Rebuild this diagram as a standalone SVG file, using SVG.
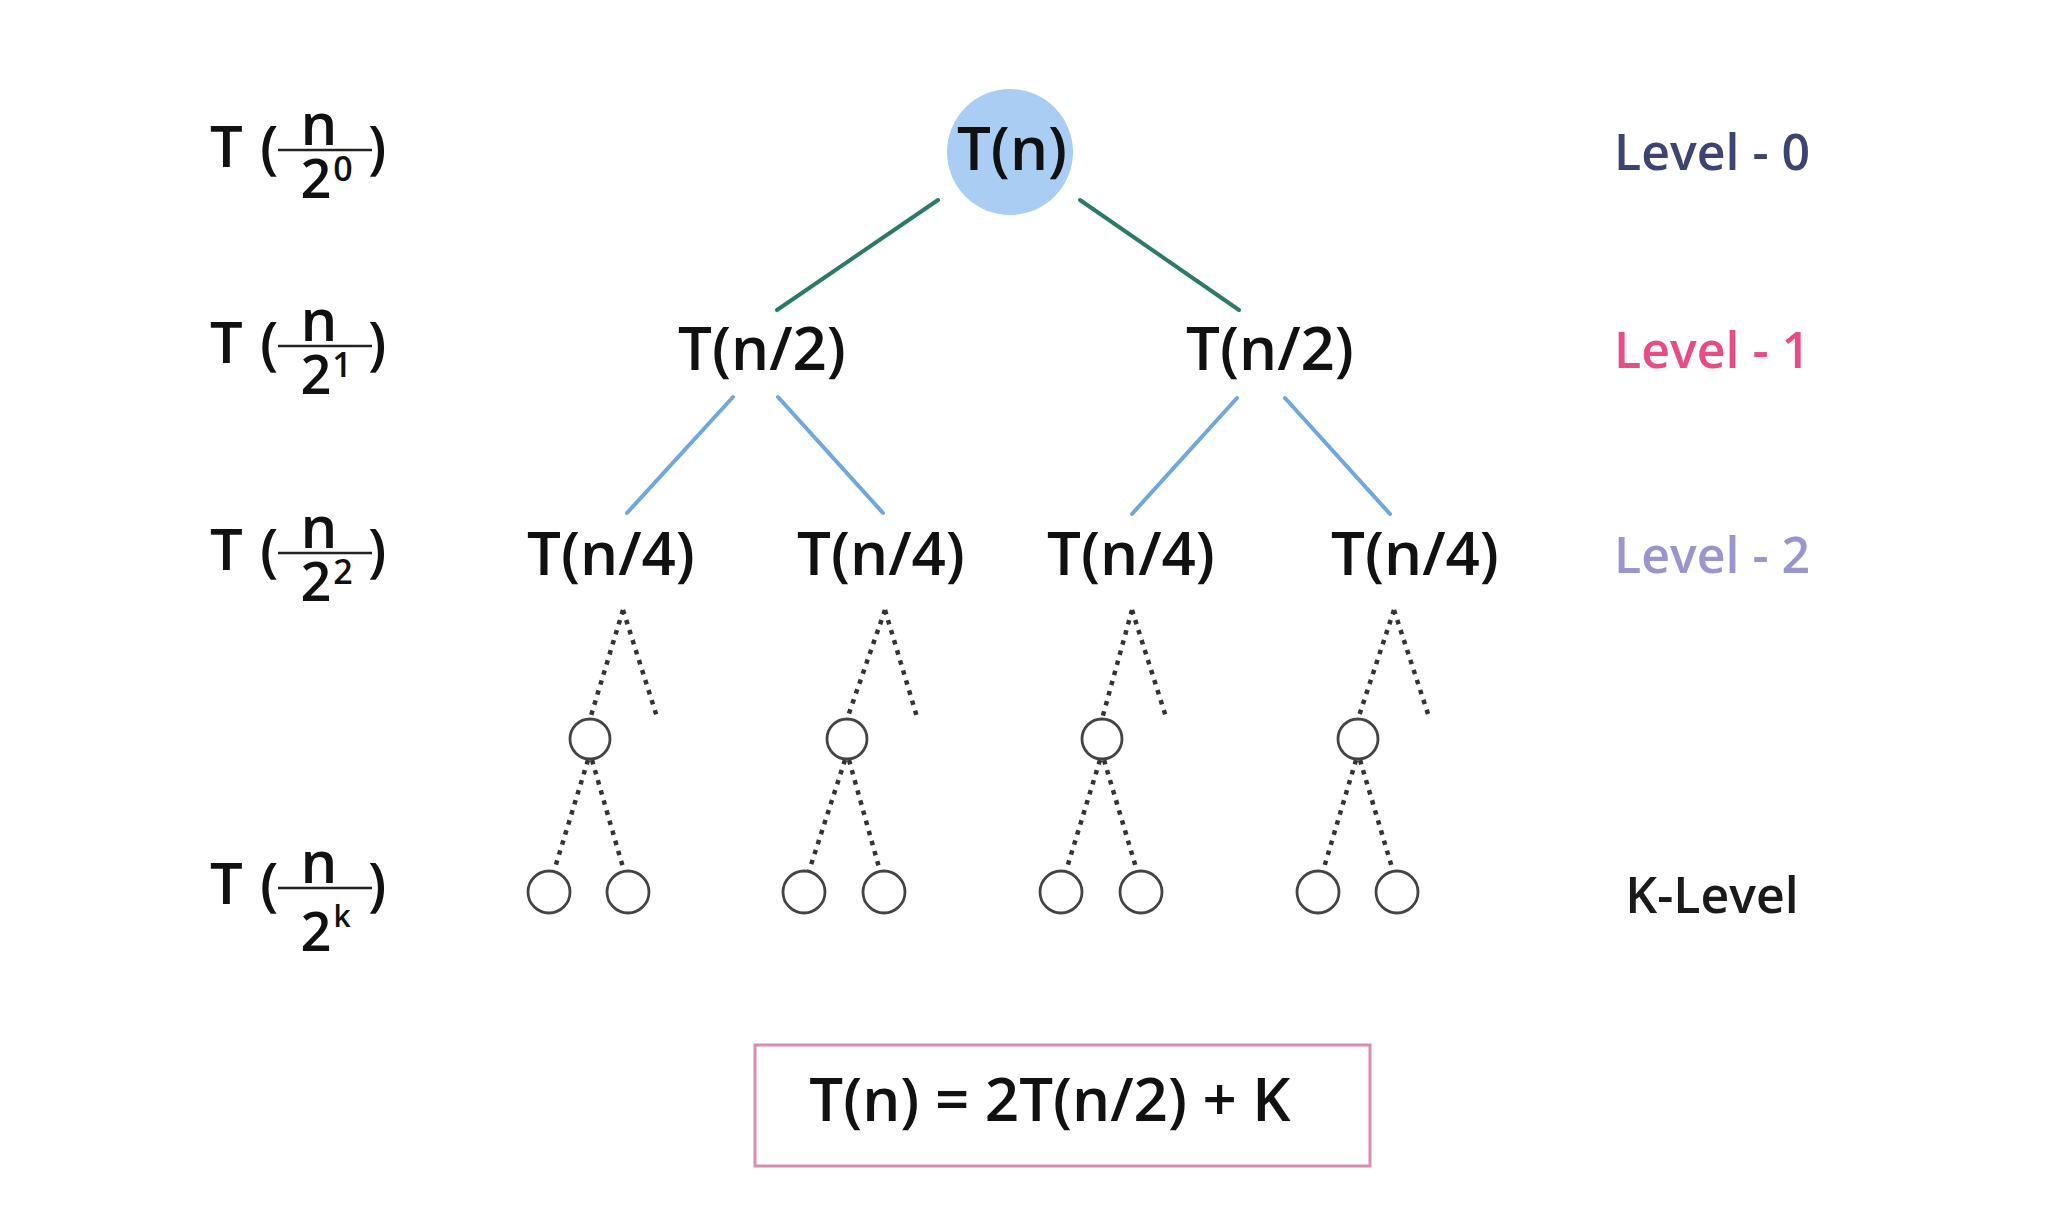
<svg xmlns="http://www.w3.org/2000/svg" width="2048" height="1229" viewBox="0 0 2048 1229">
<style>
  text { font-family: "Open Sans", "Liberation Sans", sans-serif; font-weight: 600; fill: #111; }
  .node { font-size: 60px; text-anchor: middle; }
  .lvl { font-size: 50px; text-anchor: middle; }
  .lab { font-size: 58px; }
  .frac { text-anchor: middle; }
  .num { font-size: 58px; }
  .den { font-size: 54px; }
  .sup { font-size: 34px; }
  .green { stroke: #2b7b68; stroke-width: 4; fill: none; stroke-linecap: round; }
  .blue { stroke: #6fa8dc; stroke-width: 4; fill: none; stroke-linecap: round; }
  .dot { stroke: #333; stroke-width: 4.5; fill: none; stroke-dasharray: 4.5 6; }
  .bar { stroke: #222; stroke-width: 2.5; }
  .small { fill: #fff; stroke: #444; stroke-width: 2.8; }
</style>

<rect x="0" y="0" width="2048" height="1229" fill="#fff"/>

<!-- left level formulas -->
<g id="formula-0">
  <text class="lab" x="210" y="167">T</text>
  <text class="lab" x="260" y="167">(</text>
  <line class="bar" x1="278" y1="150" x2="372" y2="150"/>
  <text class="frac"><tspan class="num" x="319" y="145">n</tspan><tspan class="den" x="316" y="198">2</tspan><tspan class="sup" x="343" y="181">0</tspan></text>
  <text class="lab" x="368" y="167">)</text>
</g>
<g id="formula-1">
  <text class="lab" x="210" y="363">T</text>
  <text class="lab" x="260" y="363">(</text>
  <line class="bar" x1="278" y1="346" x2="372" y2="346"/>
  <text class="frac"><tspan class="num" x="319" y="341">n</tspan><tspan class="den" x="316" y="394">2</tspan><tspan class="sup" x="342" y="377">1</tspan></text>
  <text class="lab" x="368" y="363">)</text>
</g>
<g id="formula-2">
  <text class="lab" x="210" y="570">T</text>
  <text class="lab" x="260" y="570">(</text>
  <line class="bar" x1="278" y1="553" x2="372" y2="553"/>
  <text class="frac"><tspan class="num" x="319" y="548">n</tspan><tspan class="den" x="316" y="601">2</tspan><tspan class="sup" x="343" y="584">2</tspan></text>
  <text class="lab" x="368" y="570">)</text>
</g>
<g id="formula-k">
  <text class="lab" x="210" y="904">T</text>
  <text class="lab" x="260" y="904">(</text>
  <line class="bar" x1="278" y1="888" x2="372" y2="888"/>
  <text class="frac"><tspan class="num" x="319" y="883">n</tspan><tspan class="den" x="316" y="951">2</tspan><tspan class="sup" x="342" y="927" style="font-size:30px">k</tspan></text>
  <text class="lab" x="368" y="904">)</text>
</g>

<!-- connectors -->
<g id="connectors">
  <line class="green" x1="938" y1="200" x2="777" y2="310"/>
  <line class="green" x1="1080" y1="200" x2="1239" y2="310"/>
  <line class="blue" x1="733" y1="397" x2="627" y2="513"/>
  <line class="blue" x1="778" y1="397" x2="883" y2="513"/>
  <line class="blue" x1="1237" y1="398" x2="1132" y2="514"/>
  <line class="blue" x1="1285" y1="398" x2="1390" y2="514"/>

  <!-- dotted group 1 -->
  <line class="dot" x1="623" y1="610" x2="590" y2="719"/>
  <line class="dot" x1="623" y1="610" x2="657" y2="717"/>
  <line class="dot" x1="588" y1="760" x2="554" y2="871"/>
  <line class="dot" x1="592" y1="760" x2="624" y2="871"/>
  <!-- dotted group 2 -->
  <line class="dot" x1="885" y1="610" x2="847" y2="719"/>
  <line class="dot" x1="885" y1="610" x2="917" y2="717"/>
  <line class="dot" x1="845" y1="760" x2="809" y2="871"/>
  <line class="dot" x1="849" y1="760" x2="880" y2="871"/>
  <!-- dotted group 3 -->
  <line class="dot" x1="1132" y1="610" x2="1102" y2="719"/>
  <line class="dot" x1="1132" y1="610" x2="1166" y2="717"/>
  <line class="dot" x1="1100" y1="760" x2="1066" y2="871"/>
  <line class="dot" x1="1104" y1="760" x2="1137" y2="871"/>
  <!-- dotted group 4 -->
  <line class="dot" x1="1394" y1="610" x2="1358" y2="719"/>
  <line class="dot" x1="1394" y1="610" x2="1429" y2="717"/>
  <line class="dot" x1="1356" y1="760" x2="1323" y2="871"/>
  <line class="dot" x1="1360" y1="760" x2="1393" y2="871"/>
</g>

<!-- root -->
<g id="root">
  <circle cx="1010" cy="152" r="63" fill="#a9cdf3"/>
  <text class="node" x="1012" y="170">T(n)</text>
</g>

<!-- level 1 -->
<g id="l1-left"><text class="node" x="762" y="370">T(n/2)</text></g>
<g id="l1-right"><text class="node" x="1270" y="370">T(n/2)</text></g>

<!-- level 2 -->
<g id="l2-a"><text class="node" x="611" y="575">T(n/4)</text></g>
<g id="l2-b"><text class="node" x="881" y="575">T(n/4)</text></g>
<g id="l2-c"><text class="node" x="1131" y="575">T(n/4)</text></g>
<g id="l2-d"><text class="node" x="1415" y="575">T(n/4)</text></g>

<!-- small circles -->
<g id="sub-1"><circle class="small" cx="590" cy="739" r="20"/></g>
<g id="sub-2"><circle class="small" cx="847" cy="739" r="20"/></g>
<g id="sub-3"><circle class="small" cx="1102" cy="739" r="20"/></g>
<g id="sub-4"><circle class="small" cx="1358" cy="739" r="20"/></g>

<g id="leaf-1a"><circle class="small" cx="549" cy="892" r="21"/></g>
<g id="leaf-1b"><circle class="small" cx="628" cy="892" r="21"/></g>
<g id="leaf-2a"><circle class="small" cx="804" cy="892" r="21"/></g>
<g id="leaf-2b"><circle class="small" cx="884" cy="892" r="21"/></g>
<g id="leaf-3a"><circle class="small" cx="1061" cy="892" r="21"/></g>
<g id="leaf-3b"><circle class="small" cx="1141" cy="892" r="21"/></g>
<g id="leaf-4a"><circle class="small" cx="1318" cy="892" r="21"/></g>
<g id="leaf-4b"><circle class="small" cx="1397" cy="892" r="21"/></g>

<!-- level labels -->
<g id="level-0"><text class="lvl" x="1712" y="170" style="fill:#3d4373">Level - 0</text></g>
<g id="level-1"><text class="lvl" x="1712" y="368" style="fill:#e84c85">Level - 1</text></g>
<g id="level-2"><text class="lvl" x="1712" y="573" style="fill:#9a94cf">Level - 2</text></g>
<g id="level-k"><text class="lvl" x="1712" y="913" style="fill:#1a1a1a">K-Level</text></g>

<!-- equation -->
<g id="equation">
  <rect x="755" y="1045" width="615" height="121" fill="#fff" stroke="#d98db1" stroke-width="3"/>
  <text class="node" x="1050" y="1121">T(n) = 2T(n/2) + K</text>
</g>
</svg>
